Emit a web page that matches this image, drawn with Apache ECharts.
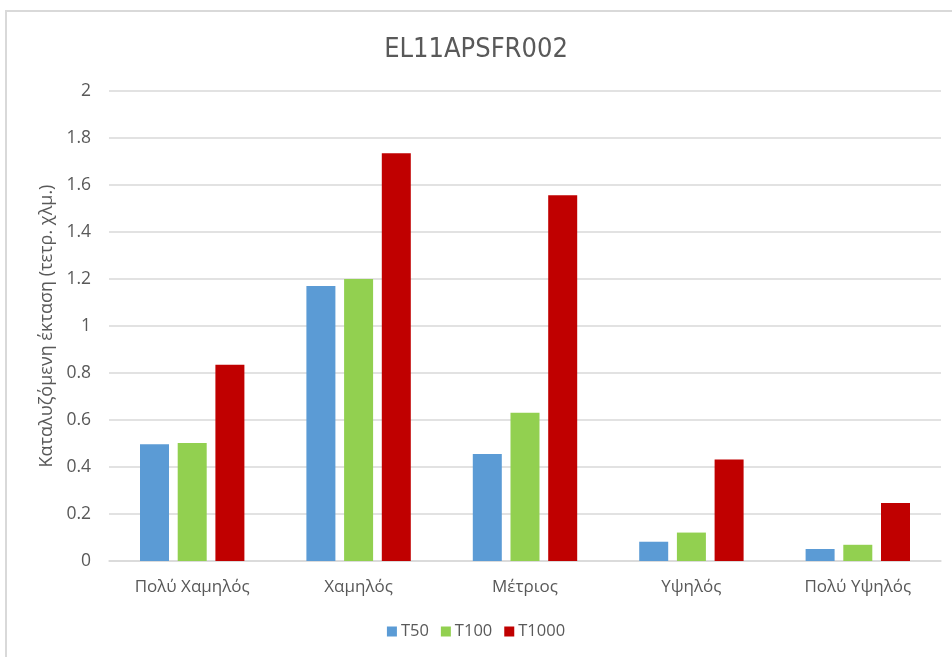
<!DOCTYPE html>
<html>
<head>
<meta charset="utf-8">
<script src="https://cdn.jsdelivr.net/npm/echarts@6/dist/echarts.min.js"></script>
<style>
  html, body { margin: 0; padding: 0; background: #fff; }
  #frame { position: absolute; left: 5px; top: 10px; width: 960px; height: 660px;
           border-left: 2px solid #d9d9d9; border-top: 2px solid #d9d9d9; box-sizing: border-box; }
  #chart { position: absolute; left: 0; top: 0; width: 952px; height: 657px; }
</style>
</head>
<body>
<div id="frame"></div>
<div id="chart"></div>
<script>
// Flood-extent categories and per-return-period values (sq. km)
const categories = ['Πολύ Χαμηλός', 'Χαμηλός', 'Μέτριος', 'Υψηλός', 'Πολύ Υψηλός'];
const t50   = [0.497, 1.170, 0.455, 0.082, 0.051];
const t100  = [0.502, 1.200, 0.631, 0.121, 0.069];
const t1000 = [0.835, 1.735, 1.556, 0.432, 0.247];
const seriesNames = ['T50', 'T100', 'T1000'];
const seriesColors = ['#5B9BD5', '#92D050', '#C00000'];
const chartTitle = 'EL11APSFR002';
const yAxisTitle = 'Καταλυζόμενη έκταση (τετρ. χλμ.)';

const labelFont = '"Open Sans", "Noto Sans", sans-serif';
const values = [t50, t100, t1000];

const chart = echarts.init(document.getElementById('chart'), null, { renderer: 'canvas' });
chart.setOption({
  animation: false,
  backgroundColor: 'transparent',
  title: {
    text: chartTitle,
    left: 'center',
    top: 31,
    textStyle: { fontFamily: '"DejaVu Sans Condensed", "Liberation Sans Narrow", sans-serif',
                 fontSize: 27, fontWeight: 'normal', color: '#595959' }
  },
  legend: {
    bottom: 12,
    left: 'center',
    itemWidth: 10,
    itemHeight: 10,
    itemGap: 12,
    icon: 'rect',
    textStyle: { fontFamily: labelFont, fontSize: 16.5, color: '#595959', padding: [0, 0, 0, -1] },
    data: seriesNames
  },
  grid: { left: 109, right: 11, top: 91, bottom: 96, containLabel: false },
  xAxis: {
    type: 'category',
    data: categories,
    axisLine: { lineStyle: { color: '#d9d9d9', width: 1.5 } },
    axisTick: { show: false },
    axisLabel: { fontFamily: labelFont, fontSize: 17, color: '#595959', margin: 18 }
  },
  yAxis: {
    type: 'value',
    min: 0,
    max: 2,
    interval: 0.2,
    name: yAxisTitle,
    nameLocation: 'middle',
    nameGap: 47,
    nameTextStyle: { fontFamily: labelFont, fontSize: 18, color: '#595959' },
    axisLine: { show: false },
    axisTick: { show: false },
    axisLabel: { fontFamily: labelFont, fontSize: 17.5, color: '#595959', margin: 18,
                 formatter: v => String(Math.round(v * 10) / 10) },
    splitLine: { lineStyle: { color: '#d9d9d9', width: 1.5 } }
  },
  series: seriesNames.map((name, i) => ({
    name: name,
    type: 'bar',
    data: values[i],
    barWidth: 29,
    barGap: '30%',
    itemStyle: { color: seriesColors[i] }
  }))
});
</script>
</body>
</html>
